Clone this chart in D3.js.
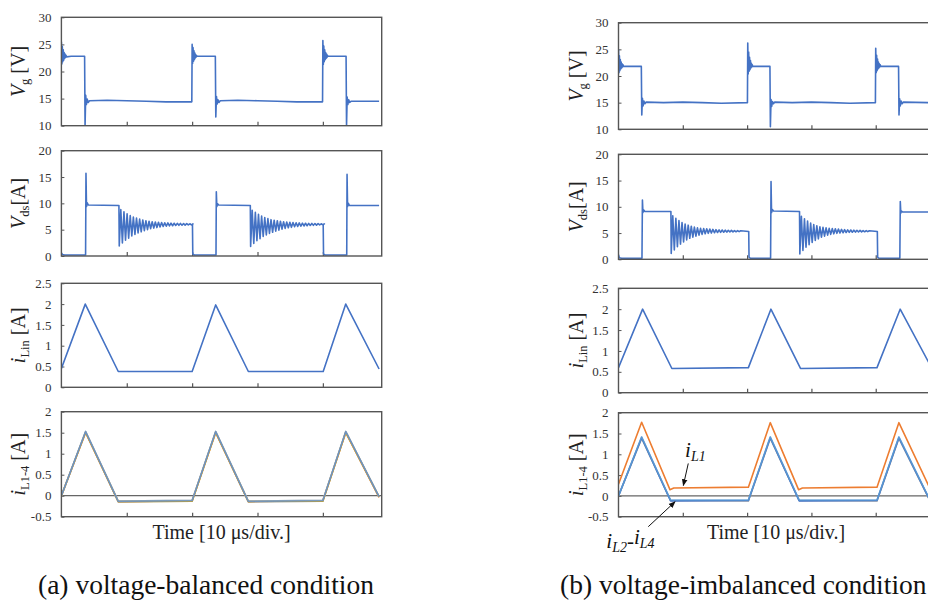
<!DOCTYPE html>
<html>
<head>
<meta charset="utf-8">
<script src="https://cdn.jsdelivr.net/npm/d3@7"></script>
<style>
  html, body { margin: 0; padding: 0; background: #fff; }
  svg { display: block; }
</style>
</head>
<body>
<svg id="chart" width="928" height="607"></svg>
<script>
// ---------------------------------------------------------------
// Time axis: 0–49 μs, 10 μs per division
// ---------------------------------------------------------------
const timeDomain = [0, 49];
const timeTicks = [10, 20, 30, 40];

// Y-axis tick labels of the four stacked plots
const vgTicks = [10, 15, 20, 25, 30];
const vdsTicks = [0, 5, 10, 15, 20];
const iLinTicks = [0, 0.5, 1, 1.5, 2, 2.5];
const iLTicks = [-0.5, 0, 0.5, 1, 1.5, 2];

// Sampled ringing: one value per half swing
const vgRingStep = 0.07;   // μs
const vdsRingStep = 0.24;  // μs
const ring = (t0, step, values) => values.map((v, i) => [t0 + i * step, v]);

// Gate voltage turn-on ringing [V]
const vgOnA1 = [25.5, 21.4, 24.6, 21.8, 24.0, 22.1, 23.5, 22.4, 23.2, 22.6, 23.0, 22.7];
const vgOnA2 = [25.0, 21.5, 24.4, 21.9, 23.8, 22.2, 23.4, 22.5, 23.1, 22.7, 22.9, 22.8];
const vgOnA3 = [25.7, 21.3, 24.7, 21.8, 24.0, 22.2, 23.5, 22.4, 23.2, 22.6, 23.0, 22.8];
const vgOnB1 = [25.0, 20.6, 23.8, 21.0, 23.1, 21.3, 22.6, 21.5, 22.3, 21.7, 22.1, 21.8];
const vgOnB2 = [26.2, 20.4, 24.5, 20.9, 23.5, 21.2, 22.9, 21.5, 22.4, 21.7, 22.1, 21.8];
const vgOnB3 = [25.2, 20.6, 23.9, 21.0, 23.2, 21.3, 22.6, 21.5, 22.3, 21.7, 22.1, 21.8];

// Drain-source ringing after the diode turns off [V]
const vdsRingA1 = [1.9, 8.8, 2.5, 8.4, 3.0, 8.0, 3.4, 7.7, 3.8, 7.4, 4.1, 7.2, 4.4, 7.0, 4.6, 6.85, 4.8, 6.7, 5.0, 6.6,
  5.2, 6.5, 5.3, 6.45, 5.4, 6.4, 5.5, 6.35, 5.6, 6.3, 5.65, 6.28, 5.7, 6.25, 5.75, 6.22, 5.8, 6.2, 5.82, 6.18,
  5.85, 6.16, 5.87, 6.15, 5.9, 6.12, 5.92, 6.1];
const vdsRingA2 = [1.8, 8.7, 2.4, 8.3, 2.9, 7.9, 3.3, 7.6, 3.7, 7.3, 4.0, 7.1, 4.3, 6.9, 4.5, 6.8, 4.7, 6.7, 4.9, 6.6,
  5.1, 6.5, 5.25, 6.45, 5.35, 6.4, 5.45, 6.35, 5.55, 6.3, 5.6, 6.28, 5.65, 6.25, 5.7, 6.22, 5.75, 6.2, 5.8, 6.18,
  5.83, 6.16, 5.86, 6.14, 5.9, 6.12, 5.92, 6.1];
const vdsRingB1 = [1.1, 8.3, 1.8, 7.8, 2.4, 7.4, 2.9, 7.0, 3.3, 6.7, 3.7, 6.5, 4.0, 6.3, 4.2, 6.15, 4.4, 6.0, 4.6, 5.9,
  4.75, 5.85, 4.85, 5.8, 4.95, 5.75, 5.0, 5.7, 5.05, 5.65, 5.1, 5.6, 5.12, 5.58, 5.15, 5.55, 5.18, 5.52, 5.2, 5.5,
  5.22, 5.48, 5.24, 5.46, 5.26, 5.44];
const vdsRingB2 = [1.0, 8.2, 1.7, 7.7, 2.3, 7.3, 2.8, 6.9, 3.2, 6.6, 3.6, 6.4, 3.9, 6.2, 4.2, 6.1, 4.4, 6.0, 4.6, 5.9,
  4.75, 5.85, 4.85, 5.8, 4.95, 5.75, 5.0, 5.7, 5.05, 5.65, 5.1, 5.6, 5.12, 5.58, 5.15, 5.55, 5.18, 5.52, 5.2, 5.5,
  5.22, 5.48, 5.24, 5.46, 5.26, 5.44];

// ---------------------------------------------------------------
// (a) voltage-balanced waveforms: [time μs, value]
// ---------------------------------------------------------------
const vgA = [
  ...ring(0, vgRingStep, vgOnA1), [1.5, 22.8], [3.55, 22.8],
  [3.62, 10.0], [3.72, 15.6], [3.82, 13.9], [3.95, 14.9], [4.1, 14.3], [4.3, 14.6],
  [7, 14.7], [10, 14.6], [13, 14.5], [16, 14.4], [19.95, 14.4],
  ...ring(20.0, vgRingStep, vgOnA2), [21.5, 22.8], [23.55, 22.8],
  [23.62, 11.6], [23.72, 15.4], [23.82, 14.0], [23.95, 14.8], [24.1, 14.3], [24.3, 14.6],
  [27, 14.7], [30, 14.6], [33, 14.5], [36, 14.4], [39.95, 14.4],
  ...ring(40.0, vgRingStep, vgOnA3), [41.5, 22.8], [43.55, 22.8],
  [43.62, 10.0], [43.72, 15.3], [43.82, 13.9], [43.95, 14.8], [44.1, 14.3], [44.3, 14.5],
  [48.6, 14.5]
];
const vdsA = [
  [0, 0.6], [0.15, 0.3], [0.5, 0.2], [3.7, 0.2],
  [3.76, 15.7], [3.84, 9.4], [3.95, 10.1], [4.1, 9.7], [8.8, 9.6],
  ...ring(8.85, vdsRingStep, vdsRingA1),
  [20.05, 6.0], [20.1, 0.4], [20.3, 0.2], [23.65, 0.2],
  [23.7, 12.2], [23.78, 9.4], [23.9, 9.9], [24.05, 9.7], [28.9, 9.6],
  ...ring(28.95, vdsRingStep, vdsRingA2),
  [40.05, 6.0], [40.1, 0.4], [40.3, 0.2], [43.65, 0.2],
  [43.7, 15.5], [43.78, 9.4], [43.9, 10.0], [44.05, 9.6], [48.6, 9.6]
];
const iLinA = [
  [0, 0.45], [3.65, 2.0], [8.7, 0.38], [20.0, 0.38], [23.6, 1.98],
  [28.6, 0.38], [40.05, 0.38], [43.5, 2.0], [48.6, 0.44]
];
const iL1A = [[0, 0.0], [3.7, 1.50], [8.7, -0.14], [20.0, -0.12], [23.6, 1.50], [28.6, -0.14], [40.0, -0.12], [43.5, 1.50], [48.6, -0.04]];
const iL2A = [[0, 0.0], [3.7, 1.52], [8.7, -0.15], [20.0, -0.13], [23.6, 1.52], [28.6, -0.15], [40.0, -0.13], [43.5, 1.52], [48.6, -0.03]];
const iL3A = [[0, 0.0], [3.7, 1.53], [8.7, -0.13], [20.0, -0.11], [23.6, 1.53], [28.6, -0.13], [40.0, -0.11], [43.5, 1.53], [48.6, -0.02]];
const iL4A = [[0, 0.0], [3.7, 1.51], [8.7, -0.14], [20.0, -0.13], [23.6, 1.51], [28.6, -0.14], [40.0, -0.13], [43.5, 1.51], [48.6, -0.03]];

// ---------------------------------------------------------------
// (b) voltage-imbalanced waveforms
// ---------------------------------------------------------------
const vgB = [
  ...ring(0, vgRingStep, vgOnB1), [1.5, 21.8], [3.55, 21.8],
  [3.62, 12.7], [3.72, 15.8], [3.82, 14.4], [3.95, 15.3], [4.1, 14.8], [4.3, 15.1],
  [7, 15.0], [10, 15.1], [13, 15.0], [16, 14.9], [20.05, 15.0],
  ...ring(20.1, vgRingStep, vgOnB2), [21.6, 21.8], [23.55, 21.8],
  [23.62, 10.5], [23.72, 15.6], [23.82, 14.3], [23.95, 15.2], [24.1, 14.8], [24.3, 15.1],
  [27, 15.0], [30, 15.1], [33, 15.0], [36, 14.9], [39.95, 15.0],
  ...ring(40.0, vgRingStep, vgOnB3), [41.5, 21.8], [43.55, 21.8],
  [43.62, 12.7], [43.72, 15.7], [43.82, 14.4], [43.95, 15.3], [44.1, 14.8], [44.3, 15.1],
  [48.6, 15.0]
];
const vdsB = [
  [0, 0.9], [0.12, 0.3], [0.5, 0.2], [3.65, 0.2],
  [3.72, 11.3], [3.8, 8.9], [3.92, 9.4], [4.1, 9.1], [8.15, 9.1],
  ...ring(8.2, vdsRingStep, vdsRingB1),
  [20.25, 5.3], [20.3, 0.4], [20.5, 0.2], [23.65, 0.2],
  [23.72, 14.8], [23.8, 8.9], [23.92, 9.5], [24.1, 9.2], [28.15, 9.1],
  ...ring(28.2, vdsRingStep, vdsRingB2),
  [40.25, 5.3], [40.3, 0.4], [40.5, 0.2], [43.75, 0.2],
  [43.82, 11.0], [43.9, 8.8], [44.0, 9.2], [44.2, 9.0], [48.6, 9.0]
];
const iLinB = [
  [0, 0.6], [3.75, 2.0], [8.3, 0.58], [20.2, 0.6], [23.7, 2.0],
  [28.3, 0.58], [40.2, 0.6], [43.8, 2.0], [48.6, 0.62]
];
const iL1B = [[0, 0.28], [3.6, 1.77], [8.0, 0.15], [8.6, 0.19], [20.2, 0.21], [23.6, 1.76], [28.0, 0.15], [28.6, 0.19], [40.2, 0.21], [43.6, 1.76], [48.6, 0.12]];
const iL2B = [[0, 0.0], [3.6, 1.42], [8.1, -0.10], [20.2, -0.10], [23.6, 1.42], [28.1, -0.10], [40.2, -0.10], [43.6, 1.42], [48.6, -0.15]];
const iL3B = [[0, 0.0], [3.6, 1.40], [8.1, -0.12], [20.2, -0.11], [23.6, 1.40], [28.1, -0.12], [40.2, -0.11], [43.6, 1.40], [48.6, -0.16]];
const iL4B = [[0, 0.0], [3.6, 1.38], [8.1, -0.11], [20.2, -0.12], [23.6, 1.38], [28.1, -0.11], [40.2, -0.12], [43.6, 1.38], [48.6, -0.17]];

// Panel captions and axis titles
const captions = ["(a) voltage-balanced condition", "(b) voltage-imbalanced condition"];
const timeTitle = "Time [10 μs/div.]";

// ---------------------------------------------------------------
// Drawing
// ---------------------------------------------------------------
const FONT = '"Liberation Serif","Times New Roman",Times,serif';
const BLUE = "#4472C4", ORANGE = "#ED7D31", GRAY = "#A5A5A5", YELLOW = "#FFC000", LBLUE = "#5B9BD5";
const FRAME = "#555";

const svg = d3.select("#chart").style("font-family", FONT);

const rowDefs = [
  { domain: [10, 30], ticks: vgTicks, title: [["V", "italic"], ["g", "sub"], [" [V]", ""]] },
  { domain: [0, 20], ticks: vdsTicks, title: [["V", "italic"], ["ds", "sub"], ["[A]", ""]] },
  { domain: [0, 2.5], ticks: iLinTicks, title: [["i", "italic"], ["Lin", "sub"], [" [A]", ""]] },
  { domain: [-0.5, 2], ticks: iLTicks, title: [["i", "italic"], ["L1-4", "sub"], [" [A]", ""]], zero: true }
];

const columns = [
  {
    left: 61.4, right: 381.7,
    rows: [[17.3, 125.7], [150.7, 256], [283.3, 387.3], [411.7, 516.7]],
    series: [
      [{ d: vgA, c: BLUE }],
      [{ d: vdsA, c: BLUE }],
      [{ d: iLinA, c: BLUE }],
      [{ d: iL1A, c: ORANGE }, { d: iL4A, c: YELLOW }, { d: iL3A, c: GRAY }, { d: iL2A, c: BLUE, o: 0.45 }, { d: iL3A, c: LBLUE, o: 0.4 }]
    ],
    caption: captions[0], captionX: 38
  },
  {
    left: 618.5, right: 933.6,
    rows: [[22.7, 129.3], [154.3, 259.3], [288.3, 392.7], [412.7, 516.7]],
    series: [
      [{ d: vgB, c: BLUE }],
      [{ d: vdsB, c: BLUE }],
      [{ d: iLinB, c: BLUE }],
      [{ d: iL4B, c: GRAY }, { d: iL3B, c: BLUE }, { d: iL2B, c: LBLUE, o: 0.85 }, { d: iL1B, c: ORANGE }]
    ],
    caption: captions[1], captionX: 560
  }
];

let clipId = 0;
columns.forEach((col, ci) => {
  const x = d3.scaleLinear().domain(timeDomain).range([col.left, col.right]);

  rowDefs.forEach((row, ri) => {
    const [top, bottom] = col.rows[ri];
    const y = d3.scaleLinear().domain(row.domain).range([bottom, top]);
    const g = svg.append("g");

    // clip traces to the plot area
    const cid = "clip" + (clipId++);
    svg.append("clipPath").attr("id", cid)
      .append("rect").attr("x", col.left).attr("y", top)
      .attr("width", col.right - col.left).attr("height", bottom - top);

    // y axis: labels and short inward ticks
    const yAxis = d3.axisLeft(y).tickValues(row.ticks).tickSizeInner(-3).tickSizeOuter(0)
      .tickPadding(10).tickFormat(d => String(d));
    const ya = g.append("g").attr("transform", `translate(${col.left},0)`).call(yAxis);
    ya.select(".domain").remove();
    ya.selectAll(".tick line").attr("stroke", FRAME).attr("stroke-width", 1);
    ya.selectAll(".tick text").attr("font-family", FONT).attr("font-size", 13).attr("fill", "#333");

    // x axis: inward ticks only
    const xAxis = d3.axisBottom(x).tickValues(timeTicks).tickSizeInner(-4).tickSizeOuter(0).tickFormat("");
    const xa = g.append("g").attr("transform", `translate(0,${bottom})`).call(xAxis);
    xa.select(".domain").remove();
    xa.selectAll(".tick line").attr("stroke", FRAME).attr("stroke-width", 1.2);

    if (row.zero) {
      g.append("line").attr("x1", col.left).attr("x2", col.right)
        .attr("y1", y(0)).attr("y2", y(0)).attr("stroke", "#666").attr("stroke-width", 1.3);
    }

    // traces
    const line = d3.line().x(d => x(d[0])).y(d => y(d[1]));
    const tg = g.append("g").attr("clip-path", `url(#${cid})`);
    col.series[ri].forEach(s => {
      tg.append("path").attr("d", line(s.d)).attr("fill", "none")
        .attr("stroke", s.c).attr("stroke-width", 1.6).attr("stroke-opacity", s.o == null ? 1 : s.o)
        .attr("stroke-linejoin", "round");
    });

    // frame
    g.append("rect").attr("x", col.left).attr("y", top)
      .attr("width", col.right - col.left).attr("height", bottom - top)
      .attr("fill", "none").attr("stroke", FRAME).attr("stroke-width", 1.4);

    // rotated axis title
    const cy = (top + bottom) / 2;
    const t = g.append("text")
      .attr("transform", `translate(${col.left - 36},${cy}) rotate(-90)`)
      .attr("text-anchor", "middle").attr("font-size", 20).attr("fill", "#222");
    row.title.forEach(([txt, kind], k) => {
      const sp = t.append("tspan").text(txt);
      if (kind === "italic") sp.attr("font-style", "italic");
      if (kind === "sub") sp.attr("font-size", 12.5).attr("dy", 4);
      if (kind === "" && k > 0 && row.title[k - 1][1] === "sub") sp.attr("dy", -4);
    });
  });

  // time axis title
  svg.append("text").attr("x", (col.left + col.right) / 2).attr("y", 539)
    .attr("text-anchor", "middle").attr("font-size", 20).attr("fill", "#222").text(timeTitle);

  // caption
  svg.append("text").attr("x", col.captionX).attr("y", 594)
    .attr("font-size", 27.5).attr("fill", "#111").text(col.caption);
});

// ---------------------------------------------------------------
// Current labels in (b)
// ---------------------------------------------------------------
const colB = columns[1];
const xB = d3.scaleLinear().domain(timeDomain).range([colB.left, colB.right]);
const yB = d3.scaleLinear().domain(rowDefs[3].domain).range([colB.rows[3][1], colB.rows[3][0]]);

svg.append("defs").append("marker").attr("id", "arrow")
  .attr("viewBox", "0 0 10 10").attr("refX", 9).attr("refY", 5)
  .attr("markerWidth", 7).attr("markerHeight", 7).attr("orient", "auto")
  .append("path").attr("d", "M0,1 L10,5 L0,9 Z").attr("fill", "#111");

const notes = [
  { text: [["i", "italic"], ["L1", "sub"]], at: [10.35, 0.93], from: [10.85, 0.78], to: [10.08, 0.25] },
  { text: [["i", "italic"], ["L2", "sub"], ["-", ""], ["i", "italic"], ["L4", "sub"]], at: [-1.9, -1.25], from: [4.63, -0.74], to: [8.8, -0.14] }
];
notes.forEach(n => {
  svg.append("line").attr("x1", xB(n.from[0])).attr("y1", yB(n.from[1]))
    .attr("x2", xB(n.to[0])).attr("y2", yB(n.to[1]))
    .attr("stroke", "#111").attr("stroke-width", 1).attr("marker-end", "url(#arrow)");
  const t = svg.append("text").attr("x", xB(n.at[0])).attr("y", yB(n.at[1]))
    .attr("font-size", 21).attr("fill", "#111");
  n.text.forEach(([txt, kind], k) => {
    const sp = t.append("tspan").text(txt).attr("font-style", "italic");
    if (kind === "sub") sp.attr("font-size", 14).attr("dy", 4);
    else if (k > 0) sp.attr("dy", -4);
  });
});
</script>
</body>
</html>
